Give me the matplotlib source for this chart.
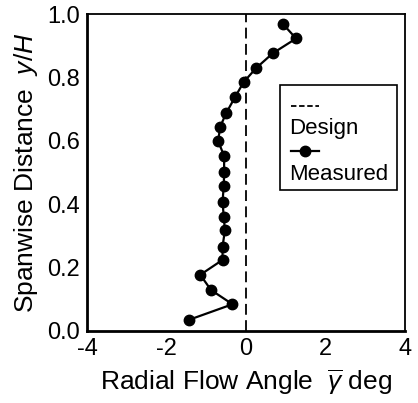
import matplotlib
matplotlib.use('Agg')
import matplotlib.pyplot as plt
from matplotlib.patches import Rectangle
from matplotlib.lines import Line2D

plt.rcParams['font.family'] = ['Liberation Sans', 'DejaVu Sans']
plt.rcParams['mathtext.fontset'] = 'custom'
plt.rcParams['mathtext.rm'] = 'Liberation Sans'
plt.rcParams['mathtext.it'] = 'Liberation Sans:italic'
plt.rcParams['axes.unicode_minus'] = False

# measured radial flow angle (deg) vs spanwise distance y/H
angle = [0.92, 1.26, 0.67, 0.25, -0.06, -0.28, -0.50, -0.65, -0.70, -0.55, -0.55,
         -0.56, -0.59, -0.56, -0.53, -0.59, -0.59, -1.15, -0.88, -0.34, -1.43]
span = [0.970, 0.923, 0.876, 0.829, 0.785, 0.737, 0.687, 0.644, 0.599, 0.552, 0.503,
        0.456, 0.408, 0.361, 0.317, 0.266, 0.224, 0.177, 0.129, 0.084, 0.035]
design_angle = 0.0

fig = plt.figure(figsize=(4.18, 4.03), dpi=100)
ax = fig.add_axes([0.208, 0.179, 0.761, 0.786])

ax.axvline(design_angle, color='black', linestyle=(0, (6, 3)), linewidth=1.3)
ax.plot(angle, span, color='black', marker='o', markersize=7.5, linewidth=1.6)

ax.set_xlim(-4, 4)
ax.set_ylim(0, 1.0)
ax.set_xticks([-4, -2, 0, 2, 4])
ax.set_yticks([0.0, 0.2, 0.4, 0.6, 0.8, 1.0])
ax.set_yticklabels(['0.0', '0.2', '0.4', '0.6', '0.8', '1.0'])
ax.tick_params(length=0, labelsize=17, pad=5)
for s in ax.spines.values():
    s.set_linewidth(1.3)
ax.spines['left'].set_linewidth(2)
ax.spines['bottom'].set_linewidth(2)

ax.set_xlabel(r'Radial Flow Angle  $\overline{\gamma}$ deg', fontsize=19, labelpad=5)
ax.set_ylabel(r'Spanwise Distance  $y/H$', fontsize=19, labelpad=5)

# legend drawn with handle above label
tr = ax.transAxes
ax.add_patch(Rectangle((0.607, 0.445), 0.368, 0.331, transform=tr,
                       facecolor='white', edgecolor='black', linewidth=1.2, zorder=5))
ax.add_line(Line2D([0.64, 0.73], [0.71, 0.71], transform=tr, color='black',
                   linestyle=(0, (3, 1.5)), linewidth=1.3, zorder=6))
ax.text(0.635, 0.64, 'Design', transform=tr, fontsize=16, va='center', zorder=6)
ax.add_line(Line2D([0.64, 0.685, 0.73], [0.567, 0.567, 0.567], transform=tr, color='black',
                   marker='o', markevery=[1], linewidth=1.6, markersize=7.5, zorder=6))
ax.text(0.635, 0.495, 'Measured', transform=tr, fontsize=16, va='center', zorder=6)

fig.savefig('out.png', dpi=100)
